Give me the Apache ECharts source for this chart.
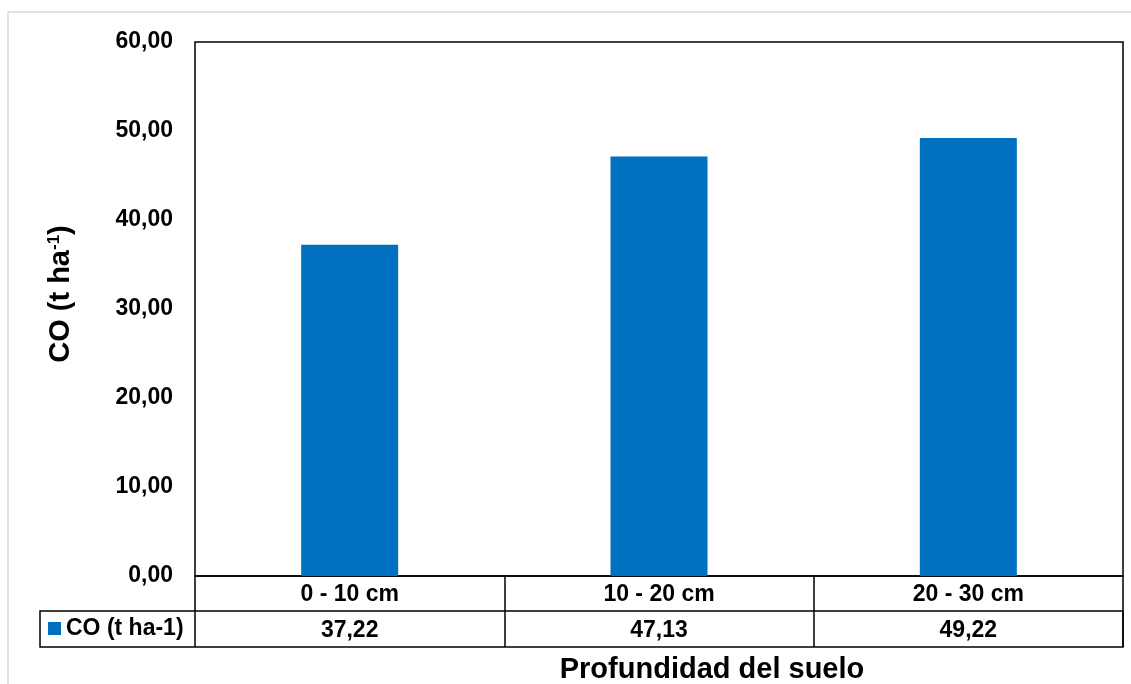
<!DOCTYPE html>
<html>
<head>
<meta charset="utf-8">
<script src="https://cdn.jsdelivr.net/npm/echarts@6/dist/echarts.min.js"></script>
<style>html,body{margin:0;padding:0;background:#fff}#c{width:1131px;height:684px}</style>
</head>
<body>
<div id="c"></div>
<script>
const categories = ['0 - 10 cm', '10 - 20 cm', '20 - 30 cm'];
const values = [37.22, 47.13, 49.22];
const seriesName = 'CO (t ha-1)';
const yTicks = { min: 0, max: 60, interval: 10 };
const fmt = v => v.toFixed(2).replace('.', ',');

const FONT = '"Liberation Sans", Arial, sans-serif';
const chart = echarts.init(document.getElementById('c'));
chart.setOption({
  animation: false,
  backgroundColor: '#fff',
  title: {
    text: 'Profundidad del suelo',
    left: 707, top: 650, textAlign: 'center',
    textStyle: { fontFamily: FONT, fontSize: 29, fontWeight: 'bold', color: '#000' }
  },
  legend: {
    data: [seriesName],
    left: 48, top: 617,
    itemWidth: 13, itemHeight: 13, itemGap: 0,
    icon: 'rect',
    padding: 0,
    textStyle: { fontFamily: FONT, fontSize: 23, fontWeight: 'bold', color: '#000', padding: [0, 0, 0, 0] }
  },
  grid: {
    left: 195, top: 42, right: 8, bottom: 108,
    show: true, borderColor: '#000', borderWidth: 1.5, backgroundColor: 'transparent'
  },
  xAxis: [{
    type: 'category', data: categories, position: 'bottom',
    axisLine: { show: true, lineStyle: { color: '#000', width: 1.5 } },
    axisTick: { show: true, length: 71, alignWithLabel: false, lineStyle: { color: '#000', width: 1.5 } },
    axisLabel: { margin: 7, fontFamily: FONT, fontSize: 23, fontWeight: 'bold', color: '#000' }
  }, {
    type: 'category', data: values.map(fmt), position: 'bottom', offset: 35,
    axisLine: { show: false }, axisTick: { show: false },
    axisLabel: { margin: 8, fontFamily: FONT, fontSize: 23, fontWeight: 'bold', color: '#000' }
  }],
  yAxis: {
    type: 'value', min: yTicks.min, max: yTicks.max, interval: yTicks.interval,
    axisLine: { show: false }, axisTick: { show: false }, splitLine: { show: false },
    axisLabel: { margin: 22, formatter: fmt, fontFamily: FONT, fontSize: 23, fontWeight: 'bold', color: '#000' },
    name: '{a|CO (t ha}{s|-1}{a|)}',
    nameLocation: 'middle', nameGap: 120, nameRotate: 90,
    nameTextStyle: {
      padding: [0, 0, 0, 30],
      rich: {
        a: { fontFamily: FONT, fontSize: 29, fontWeight: 'bold', color: '#000' },
        s: { fontFamily: FONT, fontSize: 17, fontWeight: 'bold', color: '#000', verticalAlign: 'top', padding: [0, 0, 12, 0] }
      }
    }
  },
  graphic: [
    { type: 'polyline', shape: { points: [[8, 684], [8, 12], [1131, 12]] }, style: { stroke: '#d9d9d9', lineWidth: 1.5, fill: null }, silent: true },
    { type: 'rect', shape: { x: 40, y: 611, width: 1083, height: 36 }, style: { stroke: '#000', lineWidth: 1.5, fill: null }, silent: true }
  ],
  series: [{
    name: seriesName, type: 'bar', data: values, barWidth: 97,
    itemStyle: { color: '#0070C0' }
  }]
});
</script>
</body>
</html>
